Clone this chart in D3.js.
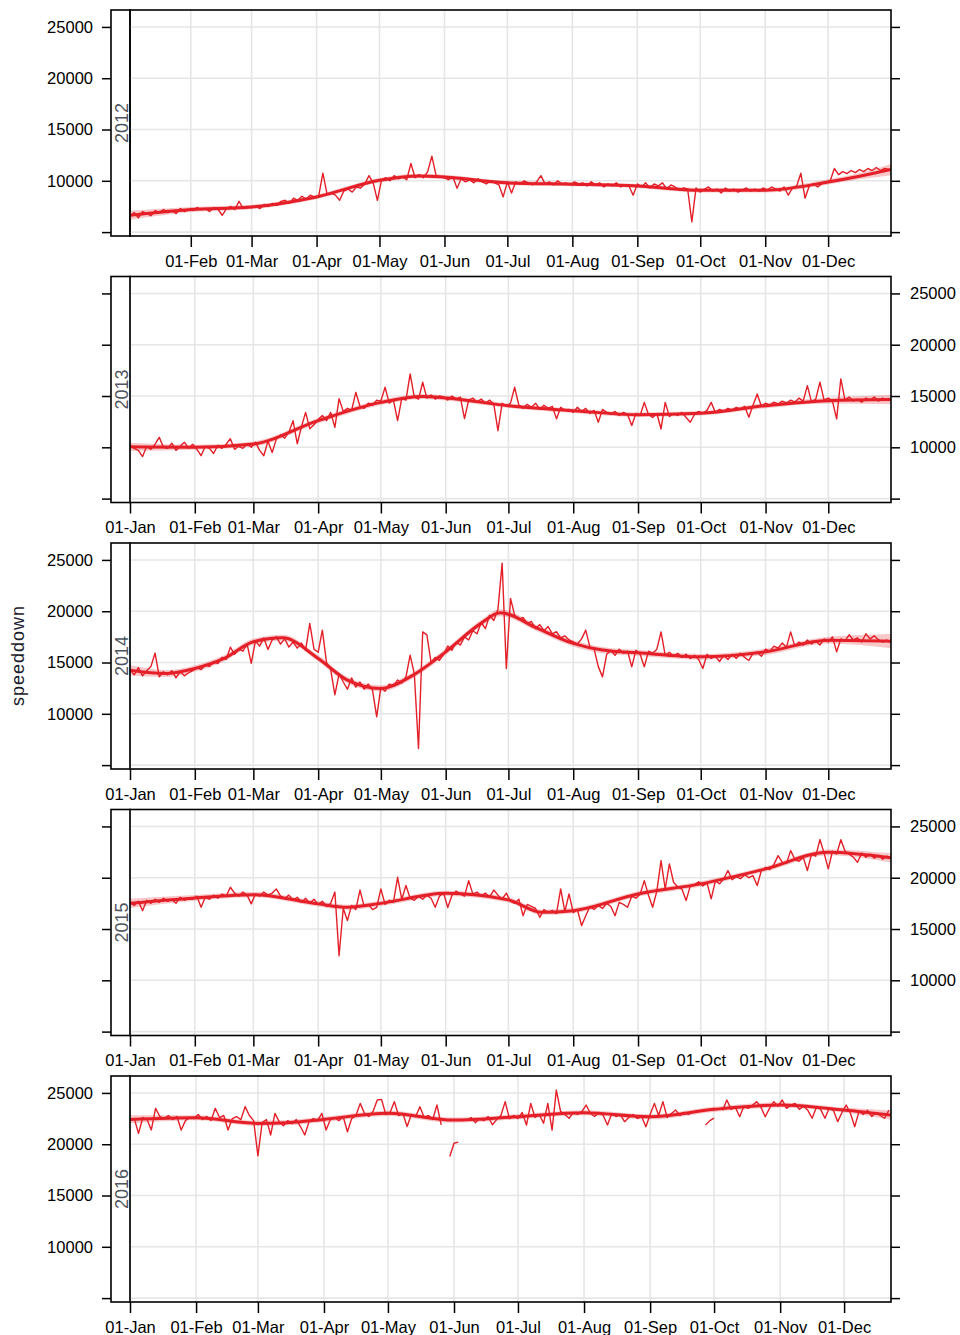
<!DOCTYPE html>
<html><head><meta charset="utf-8">
<script src="https://cdn.jsdelivr.net/npm/d3@7"></script>
<style>
body{margin:0;background:#fff}
svg text{font-family:"Liberation Sans",Arial,Helvetica,sans-serif}
</style>
</head><body>
<svg id="c" width="960" height="1335"></svg>
<script>
// ---------------- DATA ----------------
const years = [2012, 2013, 2014, 2015, 2016];
const firstDay = [2, 0, 0, 0, 0];        // day-of-year of first observation
const lastDay  = [365, 364, 364, 364, 357];
const obsStep = 2;                        // observations every 2nd day
const axisSide = ["left", "right", "left", "right", "left"];
const yTicks = [5000, 10000, 15000, 20000, 25000];
const yTickLabels = ["", "10000", "15000", "20000", "25000"];
const monthLabels = ["01-Jan","01-Feb","01-Mar","01-Apr","01-May","01-Jun","01-Jul","01-Aug","01-Sep","01-Oct","01-Nov","01-Dec"];
const yLabel = "speeddown";

const speed2012 = [
 6500,6900,6400,7000,6800,6600,7100,6900,7200,6900,7100,6800,7300,7000,7200,
 7100,7400,7200,7300,7000,7400,7200,6640,7300,7500,7200,8000,7300,7500,7400,
 7500,7300,7700,7500,7800,7600,8000,8100,7800,8300,8100,8500,8200,8600,8400,
 8500,10740,8700,8800,8600,8100,9000,9200,8900,9400,9300,9700,10500,9800,8100,
 10100,10300,10000,10500,10200,10400,10100,11700,10300,10600,10300,10900,12400,10500,10400,
 10300,10100,10400,9280,10200,9900,10100,9800,10200,9900,9700,10000,9800,9600,8430,
 9900,8800,9900,9700,10000,9800,9600,9900,10500,9700,9900,9600,10000,9700,9800,
 9600,9900,9700,9800,9500,9900,9600,9800,9400,9700,9500,9800,9400,9600,9500,
 8600,9700,9400,9800,9300,9700,9500,9800,9200,9600,9400,9100,9300,9200,6000,
 9300,8900,9200,9400,9000,9200,8800,9300,9000,9200,8900,9100,9300,9000,9200,
 9000,9300,9100,9400,9200,9000,9400,8600,9300,9500,10740,8300,9500,9700,9400,
 9700,9900,10000,11200,10600,10900,10700,11000,10800,11100,10900,11200,11000,11300,11000,
 11200,11100];
const speed2013 = [
 10200,9900,9700,9100,10100,9800,10300,10970,10000,9900,10400,9700,10100,10500,9900,
 10300,9800,9180,10100,9900,9400,10200,9900,10300,10840,9800,10100,9900,10300,10000,
 10500,9700,9180,10600,9500,10800,11200,10900,11500,12600,10350,12000,13400,11800,12200,
 12700,13100,12600,13400,11940,14740,13500,13800,13600,15360,14000,13800,14300,14100,14600,
 14500,15850,14300,14600,12600,14800,14600,17150,14900,14700,16340,14800,15100,14700,15000,
 14900,14600,15000,14700,14900,12790,14600,14800,14400,14700,14300,14600,14200,11620,14300,
 14000,14300,15850,14100,13800,14200,13900,14300,13700,14100,13800,14000,12770,13900,13600,
 13700,13400,13900,13500,13800,13300,13600,12440,13700,13400,13200,13500,13100,13400,13200,
 12120,13300,13100,14380,13200,12900,13300,11790,14380,13000,13300,13100,13400,12900,12440,
 13200,13500,13300,13600,14380,13400,13700,13500,13800,13600,13900,13700,14000,12930,14100,
 15200,14000,14300,14100,14400,14200,14500,14300,14600,14400,14800,14500,16010,14400,14700,
 16340,14600,14800,14500,12770,16670,14600,14900,14500,14700,14400,14800,14600,14900,14500,
 14800,14600,14700];
const speed2014 = [
 14300,13800,14500,13700,14200,14600,15920,13600,14100,13800,14200,13500,14100,13700,14000,
 14200,14500,14300,14800,14600,15100,14900,15500,15300,16500,15800,16300,16100,16800,14910,
 17100,16600,17400,16260,17200,17500,16800,17300,16500,17000,16400,16900,16200,18810,16300,
 16000,18160,15000,14300,11850,13900,13100,12400,13500,12600,13100,12400,12900,12300,9700,
 12600,12200,12900,12700,13300,13000,13600,15720,13900,6610,17990,17700,15000,15500,15200,
 15800,16600,16200,17000,16700,17500,17200,18100,17800,18900,18300,19600,19100,20200,24670,
 14420,21250,19600,19200,19400,18800,19000,18300,18700,18100,18500,17800,18000,17400,17600,
 17200,17000,16800,17300,18160,16500,16300,14600,13600,15800,16200,15700,16300,15900,16100,
 14580,16200,15800,14580,16100,15900,16300,17990,15700,16000,15600,15900,15500,15800,15400,
 15700,15300,14420,15800,15400,15600,15100,15700,15300,15800,15400,15900,15500,15200,15900,
 16000,15600,16300,16100,16600,16400,16900,16500,17990,16600,17000,16700,17200,16800,17100,
 16700,17300,17000,17500,16040,17300,17100,17700,17200,17400,17000,17800,17300,17600,17200,
 17000,17200,16900];
const speed2015 = [
 17600,17300,17700,16790,17800,17500,17900,17600,18000,17700,17900,17500,18100,17800,18000,
 17900,18200,17120,18100,17900,18300,18000,18400,18200,19070,18500,18200,18600,18300,17450,
 18400,18200,18600,18300,18500,18910,18200,18000,18300,17800,18100,17600,18000,17500,17900,
 17400,17700,17200,17500,18600,12400,17000,15820,17300,16900,18800,17200,17400,16900,17120,
 18910,17400,17800,17600,20040,17900,19240,18000,17800,18200,17900,18300,18000,17120,18200,
 18500,17100,18300,18700,18400,18200,19720,18400,18600,18200,18500,18100,18800,18300,17900,
 18500,17700,17500,17900,16300,17400,17200,17000,16140,16900,16600,16800,16500,18910,16700,
 18420,16600,16900,15330,16300,17200,16900,17300,17000,17500,17200,16300,17600,17400,17120,
 18200,18000,18400,19720,18300,17120,18700,21670,18900,21350,19560,19100,18900,17770,19200,
 19300,19600,19200,19500,17940,19700,19400,19900,20700,19800,20100,19900,20300,20000,20200,
 19240,20700,21000,20800,21300,22150,21500,21400,22640,21800,21600,22000,20700,22300,22100,
 23720,22400,20860,22580,22300,23700,22600,22300,22000,21500,22400,22000,22300,21900,22200,
 21800,22100,21900];
const speed2016 = [
 22300,22500,21060,22600,22400,21390,23500,22700,22500,22800,22400,22700,21390,22300,22600,
 22500,22900,22400,22700,22300,23500,22600,22800,21390,22500,22700,22400,23660,22800,22300,
 18870,22100,22400,20900,23010,22200,21800,22300,22000,22400,21700,20900,22200,22500,22300,
 23010,21390,22400,22600,22300,22700,21220,22500,22800,23980,23000,22700,23200,24310,24370,
 22900,23100,24150,22800,23000,21720,22900,22700,23660,22600,22800,22400,23820,21880,null,
 18800,20100,20200,null,22300,22600,22100,22500,22300,22700,21900,22400,22800,24150,22500,
 22800,22500,23100,21870,23980,22600,22900,22040,23980,21380,25280,23200,22900,22530,23100,
 22900,23200,23820,23000,22700,23100,22800,21880,23000,22700,22900,22200,22600,22900,22500,
 22700,21710,22900,23980,22800,24150,22600,23000,23330,22800,23100,22900,23200,null,null,
 21870,22300,22550,null,23300,24310,23400,23600,22680,23700,23500,23800,24150,23600,22680,
 23500,24150,23700,24310,23500,23800,23980,23400,23700,23300,22530,23600,23400,22530,23500,
 23300,22200,23100,23820,23000,21710,23200,22900,23300,22700,23100,22800,22530,23330];

// smoother (loess): knot day-of-year, fitted value, half-width of band
const smDay2012 = [2,31,60,91,121,140,152,182,213,244,274,305,335,350,365];
const smVal2012 = [6640,7200,7450,8430,10050,10480,10380,9800,9670,9500,9080,9080,9890,10450,11100];
const smSe2012  = [450,250,220,220,220,220,220,200,200,200,220,220,250,300,550];
const smDay2013 = [0,31,59,90,120,140,151,181,212,243,273,304,334,364];
const smVal2013 = [10050,10000,10320,12600,14380,14950,14810,14060,13570,13180,13310,14060,14550,14650];
const smSe2013  = [400,250,250,250,250,250,250,220,220,220,220,250,280,450];
const smDay2014 = [0,17,31,45,59,73,90,104,120,134,151,168,177,195,212,226,243,273,304,334,364];
const smVal2014 = [14250,13930,14420,15400,17020,17410,15400,13280,12470,13600,16040,18840,19850,18320,16860,16210,15940,15550,16040,17180,17080];
const smSe2014  = [500,350,300,300,300,300,300,300,300,300,300,300,350,300,300,300,280,280,300,320,700];
const smDay2015 = [0,31,59,90,104,120,151,181,197,212,243,273,304,334,364];
const smVal2015 = [17500,18030,18350,17450,17120,17500,18480,17840,16630,16790,18420,19400,20860,22480,21940];
const smSe2015  = [450,280,250,250,250,250,250,250,250,250,250,250,250,280,450];
const smDay2016 = [0,31,60,74,91,121,152,182,213,244,274,305,335,357];
const smVal2016 = [22420,22580,22030,22100,22420,23010,22350,22680,23070,22680,23400,23820,23330,22840];
const smSe2016  = [400,250,250,250,250,250,250,250,250,250,250,250,250,450];

// ---------------- DRAW ----------------
const speeds = [speed2012, speed2013, speed2014, speed2015, speed2016];
const smDays = [smDay2012, smDay2013, smDay2014, smDay2015, smDay2016];
const smVals = [smVal2012, smVal2013, smVal2014, smVal2015, smVal2016];
const smSes  = [smSe2012, smSe2013, smSe2014, smSe2015, smSe2016];

const svg = d3.select("#c");
const stripL = 111, plotL = 130, plotR = 891;
const top0 = 10, gapY = 266.5, panelH = 226;
const yDomain = [4620, 26650];
const red = "#e41f28";
const fs = 16.5;
const dayDate = (yr, d) => new Date(yr, 0, 1 + d);

years.forEach((yr, i) => {
  const top = top0 + i * gapY, bot = top + panelH;
  const x = d3.scaleTime().domain([dayDate(yr, firstDay[i]), dayDate(yr, lastDay[i])]).range([plotL, plotR]);
  const y = d3.scaleLinear().domain(yDomain).range([bot, top]);
  const g = svg.append("g");
  const clipId = "clip" + i;
  g.append("clipPath").attr("id", clipId).append("rect")
    .attr("x", plotL).attr("y", top).attr("width", plotR - plotL).attr("height", panelH);

  const months = d3.timeMonth.range(x.domain()[0], d3.timeDay.offset(x.domain()[1], 1));

  // strip
  g.append("rect").attr("x", stripL).attr("y", top).attr("width", plotL - stripL).attr("height", panelH)
    .attr("fill", "#fff").attr("stroke", "#000").attr("stroke-width", 1.6);
  g.append("text").attr("transform", `translate(${(stripL + plotL) / 2 + 1},${(top + bot) / 2}) rotate(-90)`)
    .attr("text-anchor", "middle").attr("dominant-baseline", "central")
    .attr("font-size", 18).attr("fill", "#4f5560").text(String(yr));

  // grid
  const grid = g.append("g").attr("stroke", "#e6e6e6").attr("stroke-width", 1.6);
  grid.selectAll("line.v").data(months).join("line")
    .attr("x1", d => x(d)).attr("x2", d => x(d)).attr("y1", top).attr("y2", bot);
  grid.selectAll("line.h").data(yTicks).join("line")
    .attr("x1", plotL).attr("x2", plotR).attr("y1", d => y(d)).attr("y2", d => y(d));

  // data
  const pg = g.append("g").attr("clip-path", `url(#${clipId})`);
  const sm = smDays[i].map((d, k) => ({ date: dayDate(yr, d), v: smVals[i][k], se: smSes[i][k] }));
  pg.append("path").datum(sm)
    .attr("d", d3.area().x(d => x(d.date)).y0(d => y(d.v - d.se)).y1(d => y(d.v + d.se)).curve(d3.curveMonotoneX))
    .attr("fill", red).attr("fill-opacity", 0.25);
  const obs = speeds[i].map((v, k) => ({ date: dayDate(yr, firstDay[i] + obsStep * k), v }));
  pg.append("path").datum(obs)
    .attr("d", d3.line().defined(d => d.v != null).x(d => x(d.date)).y(d => y(d.v)))
    .attr("fill", "none").attr("stroke", red).attr("stroke-width", 1.4).attr("stroke-linejoin", "round");
  pg.append("path").datum(sm)
    .attr("d", d3.line().x(d => x(d.date)).y(d => y(d.v)).curve(d3.curveMonotoneX))
    .attr("fill", "none").attr("stroke", red).attr("stroke-width", 3);

  // frame
  g.append("rect").attr("x", plotL).attr("y", top).attr("width", plotR - plotL).attr("height", panelH)
    .attr("fill", "none").attr("stroke", "#000").attr("stroke-width", 1.6);

  // axes
  const styleAxis = sel => {
    sel.select(".domain").remove();
    sel.selectAll("line").attr("stroke", "#000").attr("stroke-width", 1.5);
    sel.selectAll("text").attr("font-size", fs).attr("fill", "#000");
  };
  g.append("g").attr("transform", `translate(${stripL},0)`)
    .call(d3.axisLeft(y).tickValues(yTicks).tickSize(9).tickPadding(9)
      .tickFormat((d, k) => axisSide[i] === "left" ? yTickLabels[k] : ""))
    .call(styleAxis).attr("font-family", null);
  g.append("g").attr("transform", `translate(${plotR},0)`)
    .call(d3.axisRight(y).tickValues(yTicks).tickSize(9).tickPadding(10)
      .tickFormat((d, k) => axisSide[i] === "right" ? yTickLabels[k] : ""))
    .call(styleAxis).attr("font-family", null);
  g.append("g").attr("transform", `translate(0,${bot})`)
    .call(d3.axisBottom(x).tickValues(months).tickSize(11).tickPadding(8)
      .tickFormat(d => monthLabels[d.getMonth()]))
    .call(styleAxis).attr("font-family", null);
});

const midY = top0 + (4 * gapY + panelH) / 2;
svg.append("text").attr("transform", `translate(18,${midY}) rotate(-90)`)
  .attr("text-anchor", "middle").attr("dominant-baseline", "central")
  .attr("font-size", 18).attr("fill", "#1a1a2a")
  .attr("textLength", 100).attr("lengthAdjust", "spacing").text(yLabel);
</script>
</body></html>
